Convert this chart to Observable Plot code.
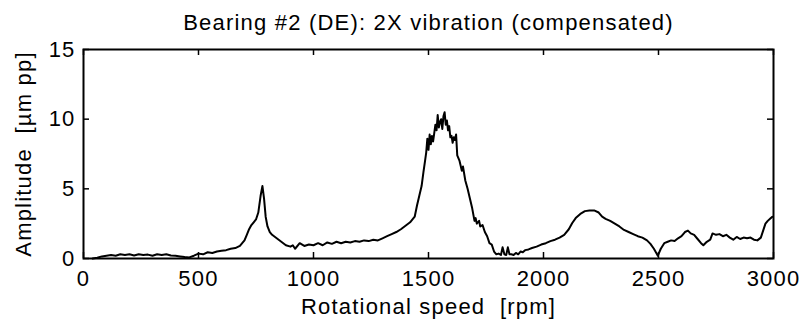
<!DOCTYPE html>
<html><head><meta charset="utf-8">
<script src="https://cdn.jsdelivr.net/npm/d3@7"></script>
<script src="https://cdn.jsdelivr.net/npm/@observablehq/plot@0.6"></script>
<style>body{margin:0;background:#fff}</style>
</head><body><div id="chart"></div>
<script>
const rpm = [40,60,80,100,120,140,160,180,200,220,240,260,280,300,320,340,360,380,400,420,440,460,480,500,520,540,560,580,600,620,640,660,680,700,710,720,730,740,750,760,770,778,785,792,800,810,820,840,860,880,900,910,920,940,960,980,1000,1020,1040,1060,1080,1100,1120,1140,1160,1180,1200,1220,1240,1260,1280,1300,1320,1340,1360,1380,1400,1420,1440,1450,1460,1470,1478,1485,1490,1495,1500,1505,1510,1515,1520,1525,1530,1535,1540,1545,1550,1555,1560,1565,1570,1575,1580,1585,1590,1595,1600,1605,1610,1615,1620,1625,1635,1645,1650,1660,1670,1680,1690,1700,1705,1710,1720,1725,1735,1745,1755,1765,1775,1785,1795,1805,1815,1822,1830,1838,1845,1852,1860,1870,1880,1890,1900,1910,1920,1935,1950,1970,1990,2010,2030,2050,2070,2090,2110,2125,2140,2160,2180,2200,2220,2240,2255,2270,2290,2310,2330,2350,2370,2390,2410,2430,2450,2465,2480,2497,2510,2525,2540,2555,2570,2585,2600,2615,2628,2640,2655,2670,2685,2695,2710,2725,2735,2750,2765,2780,2795,2810,2825,2840,2855,2870,2885,2900,2915,2930,2945,2955,2965,2975,2985,2995];
const amp = [0.0,0.05,0.15,0.2,0.25,0.2,0.3,0.25,0.3,0.22,0.3,0.25,0.28,0.2,0.3,0.25,0.3,0.22,0.2,0.15,0.1,0.08,0.2,0.35,0.3,0.45,0.4,0.5,0.55,0.6,0.7,0.75,0.9,1.3,1.7,2.1,2.4,2.6,2.8,3.3,4.5,5.2,4.3,3.0,2.3,1.9,1.7,1.45,1.2,0.95,0.85,0.95,0.7,1.1,0.9,1.0,0.95,1.1,0.95,1.15,1.05,1.2,1.1,1.2,1.15,1.25,1.2,1.3,1.25,1.35,1.3,1.45,1.6,1.75,1.9,2.1,2.35,2.6,3.0,3.8,4.5,5.2,6.2,7.0,7.6,8.6,7.8,8.9,8.2,8.8,8.4,9.0,9.6,9.2,10.3,9.4,9.8,10.0,9.3,10.2,10.5,9.6,9.9,9.2,9.5,8.7,8.8,8.3,8.7,8.5,8.9,7.4,7.0,6.3,6.6,5.6,5.0,4.3,3.6,2.7,2.9,2.5,2.7,2.3,2.4,1.9,1.6,1.1,1.0,0.5,0.3,0.35,0.25,0.8,0.3,0.25,0.8,0.3,0.3,0.25,0.4,0.3,0.5,0.45,0.6,0.65,0.75,0.85,1.0,1.1,1.25,1.35,1.5,1.7,2.1,2.55,2.9,3.2,3.4,3.45,3.45,3.3,3.0,2.85,2.7,2.5,2.3,2.05,1.9,1.75,1.6,1.5,1.3,1.05,0.7,0.2,0.7,1.1,1.2,1.3,1.25,1.45,1.6,1.9,2.0,1.8,1.7,1.4,1.1,0.95,1.2,1.35,1.8,1.7,1.75,1.6,1.7,1.5,1.35,1.55,1.4,1.5,1.45,1.5,1.35,1.3,1.5,2.0,2.5,2.7,2.85,3.0];
const xTicks = [0,500,1000,1500,2000,2500,3000];
const yTicks = [0,5,10,15];
const title = ["Bearing #2 (DE): 2X vibration (compensated)"];
const xLabel = "Rotational speed  [rpm]";
const yLabel = "Amplitude  [µm pp]";

const data = rpm.map((r, i) => ({rpm: r, amp: amp[i]}));
const font = "'Liberation Sans', Arial, sans-serif";
const fmt = d => String(d);
const W = 805, H = 320, mL = 83, mR = 32, mT = 49, mB = 62, tk = 6;
const fw = W - mL - mR, fh = H - mT - mB;
const tickStyle = {stroke: "black", strokeWidth: 1.5};
const chart = Plot.plot({
  width: W, height: H,
  marginLeft: mL, marginRight: mR, marginTop: mT, marginBottom: mB,
  style: {fontFamily: font, fontSize: "22px", letterSpacing: "1.2px", background: "white", color: "black", overflow: "visible"},
  x: {domain: [0, 3000]},
  y: {domain: [0, 15]},
  marks: [
    Plot.line(data, {x: "rpm", y: "amp", stroke: "black", strokeWidth: 2}),
    // bottom ticks (pointing up) and top ticks (pointing down)
    Plot.ruleX(xTicks, {x: d => d, y1: 15, y2: 0, insetTop: fh - tk, ...tickStyle}),
    Plot.ruleX(xTicks, {x: d => d, y1: 15, y2: 0, insetBottom: fh - tk, ...tickStyle}),
    // left ticks (pointing right) and right ticks (pointing left)
    Plot.ruleY(yTicks, {y: d => d, x1: 0, x2: 3000, insetRight: fw - tk, ...tickStyle}),
    Plot.ruleY(yTicks, {y: d => d, x1: 0, x2: 3000, insetLeft: fw - tk, ...tickStyle}),
    Plot.frame({stroke: "black", strokeWidth: 2}),
    Plot.axisX({anchor: "bottom", ticks: xTicks, tickSize: 0, tickPadding: 12, tickFormat: fmt, label: xLabel, labelAnchor: "center", labelArrow: "none", labelOffset: 55, fontSize: 22}),
    Plot.axisY({anchor: "left", ticks: yTicks, tickSize: 0, tickPadding: 8, tickFormat: fmt, label: yLabel, labelAnchor: "center", labelArrow: "none", labelOffset: 68, fontSize: 22}),
    Plot.text(title, {frameAnchor: "top", lineAnchor: "middle", dy: -27, fontSize: 22, fill: "black"})
  ]
});
document.getElementById("chart").appendChild(chart);
</script>
</body></html>
